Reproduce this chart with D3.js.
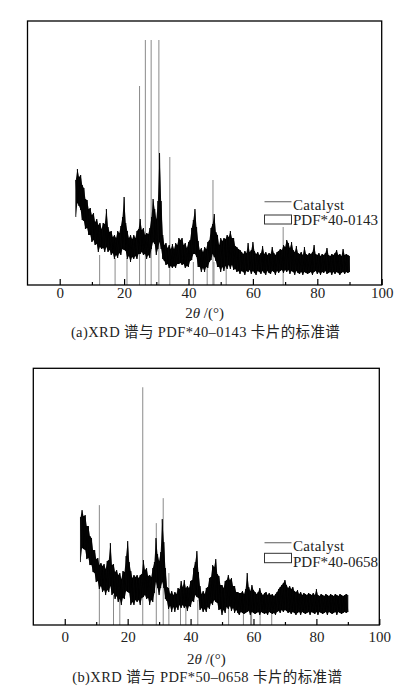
<!DOCTYPE html>
<html><head><meta charset="utf-8">
<script src="https://cdn.jsdelivr.net/npm/d3@7/dist/d3.min.js"></script>
<style>body{margin:0;background:#fff}svg{display:block}</style>
</head><body>
<svg id="c" width="413" height="691"></svg>
<script>
// ---- DATA (2θ grid starts at 5°, every 0.5°, up to 90°) ----
const angleStart = 5, angleStep = 0.5;
// Panel (a) catalyst trace: upper / lower envelope of the noisy signal (arb. units)
const catA_hi = [105,116,108,110,100,97,86,85,76,77,
 70,72,63,66,60,62,56,62,61,76,
 58,53,54,48,50,47,54,52,59,68,
 88,62,54,47,50,46,50,47,54,56,
 66,55,57,50,52,51,57,68,86,76,
 66,84,132,84,50,40,42,37,40,36,
 41,36,42,40,47,45,47,40,42,37,
 43,45,57,65,76,58,44,35,37,33,
 38,36,43,45,57,61,71,53,50,40,
 47,44,47,46,50,48,54,47,47,39,
 38,36,35,33,31,34,32,42,33,35,
 43,34,31,33,30,32,39,31,33,30,
 32,31,38,32,30,33,34,36,35,40,
 38,45,42,37,43,35,33,39,32,31,
 33,30,38,31,30,32,31,33,40,31,
 30,32,29,31,30,32,37,30,29,31,
 30,32,35,30,31,29,36,30,31,30,
 29];
const catA_lo = [68,82,79,75,65,64,56,57,50,50,
 43,45,40,41,33,38,36,37,33,38,
 33,35,30,32,26,30,27,32,30,36,
 35,34,26,29,23,28,26,29,26,31,
 31,33,30,31,26,30,27,36,43,41,
 30,36,43,36,26,24,20,21,17,19,
 17,19,17,21,21,22,20,21,17,19,
 18,24,25,31,31,28,18,18,13,17,
 13,18,17,23,25,31,28,24,18,18,
 13,18,14,19,16,20,16,20,15,16,
 13,14,11,14,13,10,14,13,15,11,
 14,12,10,14,13,11,14,12,10,14,
 12,11,14,13,10,14,12,14,15,12,
 15,13,15,11,14,13,10,14,12,11,
 13,10,13,12,11,12,13,10,13,14,
 11,13,10,13,12,14,11,12,13,10,
 13,11,13,12,10,12,13,11,13,12,
 13];
// Panel (a) PDF#40-0143 reference lines: 2θ and relative intensity
const pdfA_pos = [12.4,17.2,20.9,24.8,26.6,28.4,30.8,34.2,41.5,45.8,47.6,47.9,51.7,69.4];
const pdfA_int = [30,27,27,199,245,245,245,128,23,20,105,23,20,58];

// Panel (b) catalyst trace
const catB_hi = [108,115,109,110,99,99,89,87,75,75,
 66,67,60,62,59,61,56,64,65,82,
 60,61,53,55,50,52,46,54,53,69,
 84,63,54,47,50,48,50,47,50,51,
 65,55,57,49,50,48,57,63,87,71,
 64,73,106,83,57,38,37,31,34,30,
 33,31,37,36,44,38,45,37,39,37,
 44,45,57,63,74,53,39,31,34,31,
 37,38,47,48,60,58,66,51,49,40,
 40,37,44,45,50,45,47,39,39,33,
 33,32,32,34,31,36,52,38,34,40,
 35,33,31,33,37,32,30,32,33,30,
 32,30,31,29,31,33,36,38,40,42,
 45,40,37,39,36,38,34,33,35,31,
 33,30,32,31,30,32,31,30,32,30,
 36,30,29,31,30,29,31,30,29,31,
 30,29,31,30,29,31,30,29,30,31,
 30];
const catB_lo = [63,77,76,75,66,67,60,60,53,52,
 43,44,36,39,33,35,30,35,33,39,
 30,32,26,29,23,26,20,27,26,34,
 33,32,20,23,20,25,23,25,20,27,
 28,30,26,27,20,25,23,32,43,37,
 30,37,43,37,26,24,16,19,13,18,
 13,18,15,20,17,20,17,19,14,19,
 18,24,23,30,28,27,15,17,13,16,
 13,18,16,22,20,25,23,22,15,16,
 10,15,12,18,16,19,14,17,12,15,
 12,10,13,12,11,12,13,14,10,13,
 12,11,12,13,10,13,12,11,12,10,
 13,12,11,12,10,13,14,12,15,13,
 15,14,12,13,11,13,12,10,12,13,
 10,13,12,11,12,13,10,13,12,11,
 13,10,13,12,11,12,13,10,13,12,
 11,12,13,10,13,12,11,12,13,12,
 13];
// Panel (b) PDF reference lines
const pdfB_pos = [11.0,15.5,17.5,24.8,29.1,31.3,33.1,36.8,38.5,42.3,52.1,56.8,59.1,59.4,62.1,65.8];
const pdfB_int = [120,30,25,238,102,127,52,25,25,25,27,20,20,20,20,20];

const xMajor = [0,20,40,60,80,100];
const xMinor = [10,30,50,70,90];
const xDomain = [-10,100];
const seriesNames = ["Catalyst"];
const cardNames = ["PDF*40-0143","PDF*40-0658"];
const captions = ["(a)XRD 谱与 PDF*40–0143 卡片的标准谱","(b)XRD 谱与 PDF*50–0658 卡片的标准谱"];

// ---- LAYOUT ----
const panels = [
  {left:27.5,right:381.7,top:21,bottom:285,yMax:264,pad:2,titleY:318,capY:337,
   legLine:201.7,legT1:209.5,legRect:[215,224],legT2:225,
   hi:catA_hi,lo:catA_lo,pos:pdfA_pos,inten:pdfA_int,card:cardNames[0],cap:captions[0]},
  {left:33.3,right:379.3,top:368.3,bottom:625,yMax:257,pad:6,titleY:664,capY:682,
   legLine:542.7,legT1:551,legRect:[553.3,562.7],legT2:566.5,
   hi:catB_hi,lo:catB_lo,pos:pdfB_pos,inten:pdfB_int,card:cardNames[1],cap:captions[1]}
];

const svg = d3.select("#c");
const serif = "'Liberation Serif','Times New Roman',serif";
const mixed = "'Liberation Serif','Noto Sans CJK SC',serif";

panels.forEach(p => {
  const x = d3.scaleLinear().domain(xDomain).range([p.left,p.right]);
  const y = d3.scaleLinear().domain([0,p.yMax]).range([p.bottom,p.top]);
  const g = svg.append("g");

  // reference sticks
  g.append("g").selectAll("line").data(p.pos).join("line")
    .attr("x1",d=>x(d)).attr("x2",d=>x(d))
    .attr("y1",y(0)).attr("y2",(d,i)=>y(p.inten[i]))
    .attr("stroke","#8a8a8a").attr("stroke-width",1);

  // catalyst noisy trace: filled band between envelopes + zigzag outline
  const env = p.hi.map((h,i)=>({a: angleStart + i*angleStep, hi: h, lo: p.lo[i]}));
  g.append("path").datum(env)
    .attr("d", d3.area().x(d=>x(d.a)).y0(d=>y(d.lo)).y1(d=>y(d.hi)))
    .attr("fill","#0d0d0d");
  const pts = [];
  env.forEach(d=>{ pts.push([d.a,d.lo],[d.a,d.hi]); });
  g.append("path").datum(pts)
    .attr("d", d3.line().x(d=>x(d[0])).y(d=>y(d[1])))
    .attr("fill","none").attr("stroke","#000").attr("stroke-width",0.8);

  // axes
  const ax = g.append("g").attr("transform",`translate(0,${p.bottom})`)
    .call(d3.axisBottom(x).tickValues(xMajor).tickFormat(d3.format("d"))
      .tickSizeInner(-6).tickSizeOuter(0).tickPadding(p.pad));
  ax.select(".domain").remove();
  ax.selectAll("line").attr("stroke","#000").attr("stroke-width",1.2);
  ax.selectAll("text").attr("font-family",serif).attr("font-size",15).attr("fill","#222");
  const mx = g.append("g").attr("transform",`translate(0,${p.bottom})`)
    .call(d3.axisBottom(x).tickValues(xMinor).tickFormat("").tickSizeInner(-3).tickSizeOuter(0));
  mx.select(".domain").remove();
  mx.selectAll("line").attr("stroke","#000").attr("stroke-width",1.2);

  // frame
  g.append("rect").attr("x",p.left).attr("y",p.top)
    .attr("width",p.right-p.left).attr("height",p.bottom-p.top)
    .attr("fill","none").attr("stroke","#000").attr("stroke-width",1.3);

  // axis title
  const t = g.append("text").attr("x",(p.left+p.right)/2).attr("y",p.titleY)
    .attr("text-anchor","middle").attr("font-family",serif).attr("font-size",15).attr("fill","#222");
  t.append("tspan").text("2");
  t.append("tspan").attr("font-style","italic").text("θ");
  t.append("tspan").text(" /(°)");

  // caption
  g.append("text").attr("x",(p.left+p.right)/2+1).attr("y",p.capY)
    .attr("text-anchor","middle").attr("font-family",mixed).attr("font-size",14.5)
    .attr("letter-spacing",0.4).attr("fill","#222").text(p.cap);

  // legend
  const lx0 = 264.5, lx1 = 291.5;
  g.append("line").attr("x1",lx0).attr("x2",lx1).attr("y1",p.legLine).attr("y2",p.legLine)
    .attr("stroke","#777").attr("stroke-width",1.2);
  g.append("text").attr("x",lx1+1.5).attr("y",p.legT1).attr("font-family",serif)
    .attr("font-size",15).attr("letter-spacing",0.3).attr("fill","#222").text(seriesNames[0]);
  g.append("rect").attr("x",lx0).attr("y",p.legRect[0]).attr("width",lx1-lx0)
    .attr("height",p.legRect[1]-p.legRect[0]).attr("fill","#fff").attr("stroke","#333").attr("stroke-width",1);
  g.append("text").attr("x",lx1+1.5).attr("y",p.legT2).attr("font-family",serif)
    .attr("font-size",15).attr("fill","#222").text(p.card);
});
</script>
</body></html>
